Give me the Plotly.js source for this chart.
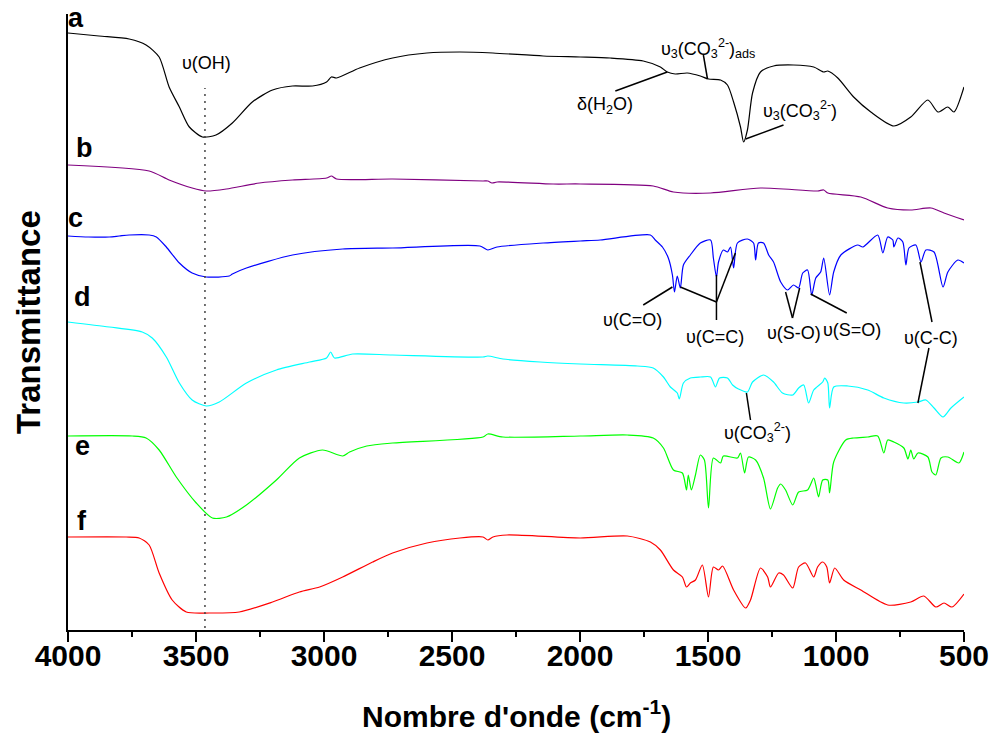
<!DOCTYPE html>
<html>
<head>
<meta charset="utf-8">
<script src="https://cdn.plot.ly/plotly-3.0.1.min.js"></script>
<style>
  html, body { margin: 0; padding: 0; background: #ffffff; }
  #chart { width: 997px; height: 742px; }
</style>
</head>
<body>
<div id="chart"></div>
<script>
// ---- Data (wavenumber in cm-1, transmittance in arbitrary stacked units) ----
const wnA = [4000,3879,3761,3695,3644,3605,3565,3526,3475,3422,3358,3280,3201,3123,3045,2990,2971,2951,2861,2732,2598,2469,2340,2144,1999,1882,1753,1686,1659,1628,1581,1530,1498,1451,1424,1400,1373,1361,1346,1326,1295,1244,1166,1087,1048,1032,993,931,864,774,708,641,602,563,539,500];
const tA  = [597,594,591,585,573,543,523,503,493,495,507,528,540,544,544,548,553,552,562,572,577,578,577,574,573,572,569,563,558,556,557,554,551,550,545,528,503,488,500,537,558,564,565,563,558,559,552,533,518,504,513,530,518,523,518,543];

const wnB = [4000,3683,3605,3515,3460,3381,3252,3123,2990,2971,2951,2732,2379,2360,2344,2324,2105,1999,1714,1635,1490,1295,1072,1048,1032,903,798,708,629,578,500];
const tB  = [465,459,450,442,439,441,447,450,452,454,451,451,449,449,447,448,446,446,444,438,437,442,439,440,437,433,422,420,422,417,410];

const wnC = [4000,3920,3839,3800,3761,3683,3655,3616,3565,3515,3460,3370,3358,3303,3123,2927,2732,2391,2360,2324,2144,1999,1921,1725,1706,1678,1655,1639,1631,1620,1608,1596,1569,1530,1490,1479,1467,1459,1440,1424,1412,1400,1385,1346,1322,1314,1303,1283,1263,1244,1216,1189,1166,1146,1130,1111,1095,1079,1060,1048,1025,1009,981,915,895,837,817,798,778,774,758,739,727,715,688,668,649,617,582,563,524,500];
const tC  = [394,393,393,394,395,395,393,383,367,357,353,354,356,362,375,381,382,384,380,383,387,389,390,395,390,383,372,355,338,354,342,365,375,387,390,372,353,368,380,378,383,362,387,391,387,370,387,387,375,368,348,340,345,342,357,360,335,352,358,372,335,358,375,385,383,395,377,393,390,383,392,388,365,382,385,368,380,378,343,358,370,367];

const wnD = [4000,3839,3710,3671,3616,3565,3515,3460,3409,3303,3186,3056,2990,2974,2959,2888,2732,2379,2360,2301,2156,1999,1776,1714,1674,1647,1620,1612,1596,1569,1530,1490,1471,1455,1424,1404,1381,1346,1326,1283,1244,1209,1169,1146,1126,1107,1087,1052,1044,1032,1025,1009,954,876,813,735,680,649,617,582,551,500];
const tD  = [308,303,298,292,273,247,230,224,228,247,260,268,272,278,272,276,275,273,274,271,268,266,264,262,253,243,237,231,247,252,253,253,243,252,252,245,241,238,248,255,248,237,235,242,245,227,240,248,252,247,222,243,244,240,232,227,228,230,222,213,222,233];

const wnE = [4000,3749,3695,3644,3577,3499,3436,3381,3303,3186,3096,3006,2927,2900,2833,2732,2379,2360,2301,1999,1815,1714,1674,1635,1600,1584,1577,1565,1549,1530,1514,1498,1479,1451,1440,1385,1373,1357,1342,1314,1283,1256,1228,1216,1197,1169,1146,1111,1087,1079,1068,1052,1032,1025,1009,962,931,876,837,813,798,774,735,719,708,696,680,641,625,610,590,563,520,500];
const tE  = [194,194,192,180,153,127,112,113,125,150,172,180,174,178,184,187,193,196,193,194,195,192,182,160,157,140,155,140,155,175,170,122,172,167,174,172,177,157,173,170,152,121,142,146,140,125,138,140,152,145,133,150,150,137,168,190,192,193,194,177,190,188,182,171,180,171,177,173,158,155,172,173,167,178];

const wnF = [4000,3773,3722,3683,3644,3593,3538,3448,3331,3201,3096,3017,2927,2810,2732,2598,2469,2379,2360,2340,2285,1999,1815,1725,1686,1635,1600,1584,1569,1549,1522,1498,1479,1459,1443,1400,1353,1334,1295,1267,1256,1224,1205,1169,1146,1119,1087,1072,1052,1036,1025,1005,970,903,798,708,657,610,578,547,500];
const tF  = [93,93,92,85,57,30,18,17,18,28,38,43,53,68,77,87,92,93,90,93,95,92,94,88,80,60,53,43,47,50,65,33,63,60,64,40,22,30,62,53,43,57,55,42,63,67,53,63,68,63,47,62,50,40,25,28,34,23,27,23,36];

const seriesLabels = ['a','b','c','d','e','f'];
const seriesColors = ['#000000','#800080','#0000ff','#00ffff','#00ff00','#ff0000'];
const xTickVals = [4000,3500,3000,2500,2000,1500,1000,500];
const xTickText = ['4000','3500','3000','2500','2000','1500','1000','500'];

// label positions for a–f (wavenumber, transmittance units)
const labelWn = [3969,3937,3969,3945,3945,3945];
const labelT  = [612,482,412,333,184,109];

// band assignments: [text, wavenumber, T]
const bandTexts = [
  ['\u03c5(OH)', 3460, 567],
  ['\u03b4(H<sub>2</sub>O)', 1902, 525],
  ['\u03c5<sub>3</sub>(CO<sub>3</sub><sup>2-</sup>)<sub>ads</sub>', 1500, 582],
  ['\u03c5<sub>3</sub>(CO<sub>3</sub><sup>2-</sup>)', 1140, 520],
  ['\u03c5(C=O)', 1796, 310],
  ['\u03c5(C=C)', 1471, 293],
  ['\u03c5(S-O)', 1166, 297],
  ['\u03c5(S=O)', 938, 300],
  ['\u03c5(C-C)', 629, 292],
  ['\u03c5(CO<sub>3</sub><sup>2-</sup>)', 1306, 198]
];
// leader lines: [w0, T0, w1, T1]
const leaderLines = [
  [1659,558,1862,539],
  [1502,551,1518,575],
  [1353,491,1205,505],
  [1753,325,1639,343],
  [1467,328,1608,343],
  [1467,328,1467,355],
  [1467,328,1393,377],
  [1467,328,1467,310],
  [1170,312,1197,338],
  [1170,312,1142,342],
  [958,317,1099,336],
  [625,308,672,368],
  [637,282,680,227],
  [1350,237,1334,210]
];
const ohMarkerWn = 3465;

// ---- Build figure ----
const wnAll = [wnA,wnB,wnC,wnD,wnE,wnF];
const tAll  = [tA,tB,tC,tD,tE,tF];
const traces = wnAll.map((w,i) => ({
  x: w, y: tAll[i], type: 'scatter', mode: 'lines',
  line: {color: seriesColors[i], width: 1.2, shape: 'spline', smoothing: 0.7},
  hoverinfo: 'skip', showlegend: false
}));

const FONT = 'Liberation Sans, Arial, Helvetica, sans-serif';
const annotations = [];
seriesLabels.forEach((s,i) => annotations.push({
  x: labelWn[i], y: labelT[i], xref: 'x', yref: 'y', text: s, showarrow: false,
  font: {family: FONT, size: 27, color: '#000', weight: 'bold'}, xanchor: 'center', yanchor: 'middle'
}));
bandTexts.forEach(b => annotations.push({
  x: b[1], y: b[2], xref: 'x', yref: 'y', text: b[0], showarrow: false,
  font: {family: FONT, size: 18, color: '#000'}, xanchor: 'center', yanchor: 'middle'
}));
annotations.push({
  xref: 'paper', yref: 'paper', x: 0, y: 0.5, xshift: -40, text: 'Transmittance',
  textangle: -90, showarrow: false, xanchor: 'center', yanchor: 'middle',
  font: {family: FONT, size: 33, color: '#000', weight: 'bold'}
});
annotations.push({
  xref: 'paper', yref: 'paper', x: 0.5, y: 0, yshift: -84, text: 'Nombre d\'onde (cm<sup>-1</sup>)',
  showarrow: false, xanchor: 'center', yanchor: 'middle',
  font: {family: FONT, size: 30, color: '#000', weight: 'bold'}
});

const shapes = leaderLines.map(l => ({
  type: 'line', xref: 'x', yref: 'y', x0: l[0], y0: l[1], x1: l[2], y1: l[3],
  line: {color: '#000', width: 1.5}
}));
shapes.push({
  type: 'line', xref: 'x', yref: 'y', x0: ohMarkerWn, x1: ohMarkerWn, y0: 2, y1: 542,
  line: {color: '#444', width: 1.5, dash: '2px,5px'}
});

const layout = {
  width: 997, height: 742,
  margin: {l: 68, r: 33, t: 14, b: 112},
  paper_bgcolor: '#ffffff', plot_bgcolor: '#ffffff',
  font: {family: FONT, color: '#000'},
  xaxis: {
    range: [4000, 500], tickvals: xTickVals, ticktext: xTickText,
    showgrid: false, zeroline: false, showline: true, linewidth: 2, linecolor: '#000',
    ticks: 'outside', ticklen: 10, tickwidth: 2, tickcolor: '#000',
    minor: {dtick: 250, tick0: 0, ticks: 'outside', ticklen: 5, tickwidth: 2, tickcolor: '#000', showgrid: false},
    tickfont: {family: FONT, size: 30, color: '#000', weight: 'bold'},
    ticklabelstandoff: -12
  },
  yaxis: {
    range: [0, 616], showgrid: false, zeroline: false, showline: true, linewidth: 2, linecolor: '#000',
    ticks: '', showticklabels: false
  },
  annotations: annotations,
  shapes: shapes
};

Plotly.newPlot('chart', traces, layout, {displayModeBar: false, staticPlot: true});
</script>
</body>
</html>
